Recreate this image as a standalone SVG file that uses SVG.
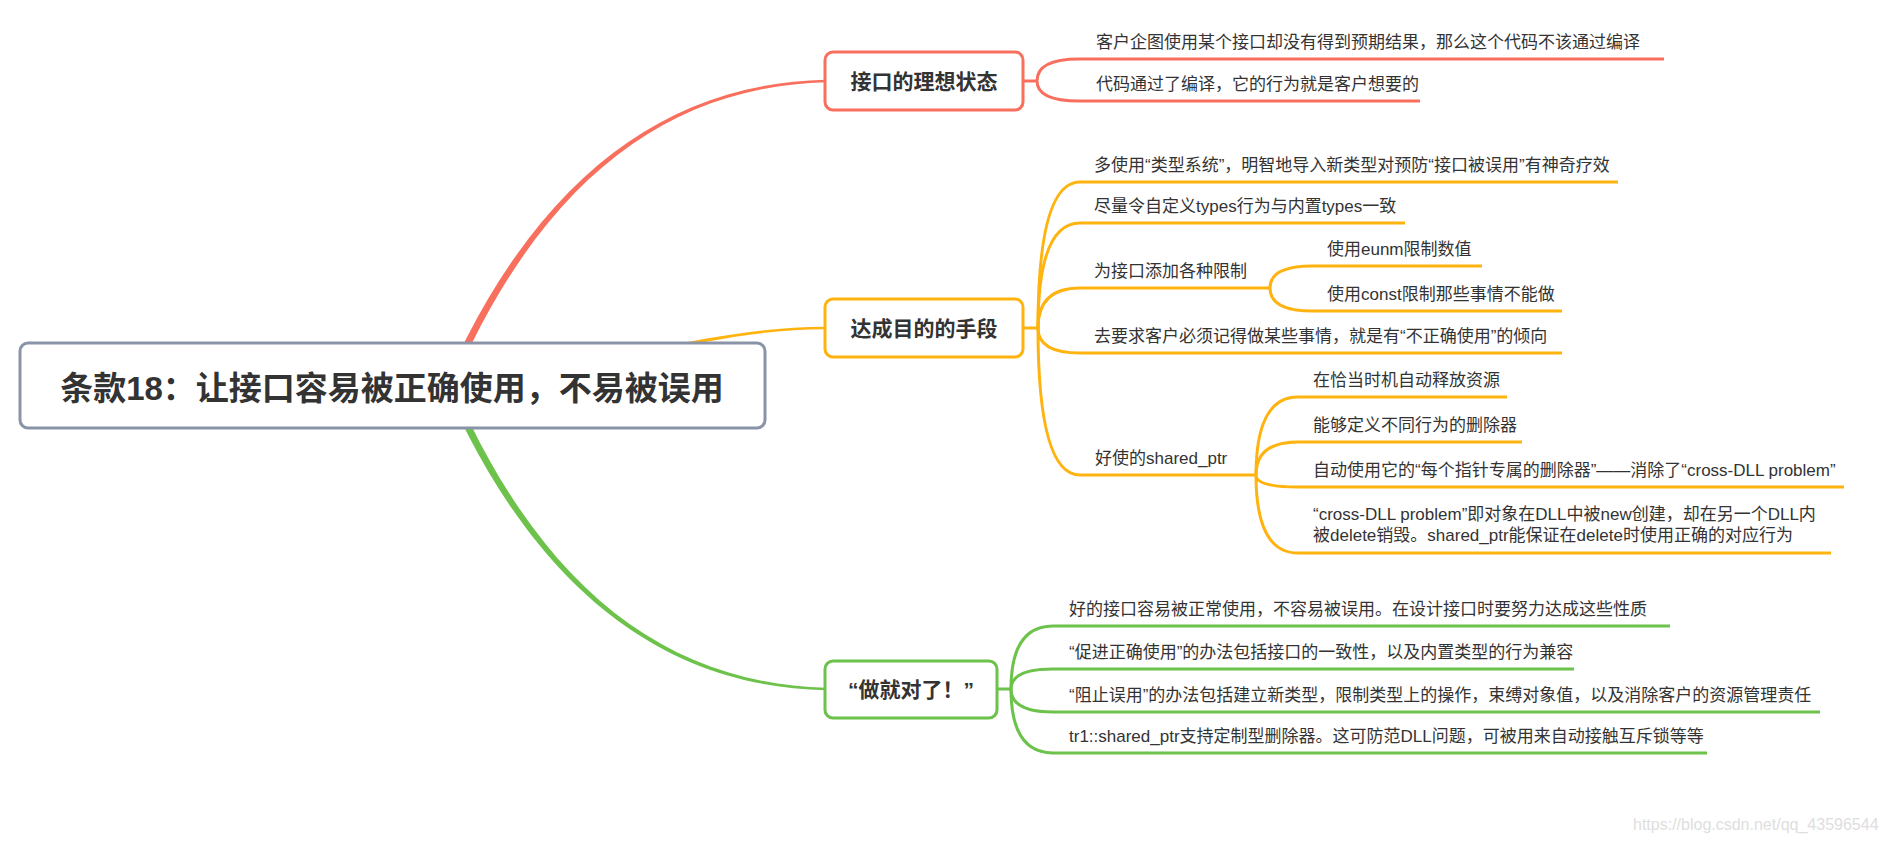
<svg xmlns="http://www.w3.org/2000/svg" width="1887" height="843" viewBox="0 0 1887 843">
<style>
.ln{fill:none;stroke-width:3}
.red{stroke:#F96F5D}
.yel{stroke:#FFB30F}
.grn{stroke:#6CC24A}
.box{fill:#fff;stroke-width:3}
.t{font-family:"Liberation Sans","Noto Sans CJK SC",sans-serif;font-size:17px;fill:#333}
.h{font-family:"Liberation Sans","Noto Sans CJK SC",sans-serif;font-size:21px;font-weight:bold;fill:#333;text-anchor:middle}
.root{font-family:"Liberation Sans","Noto Sans CJK SC",sans-serif;font-size:33px;font-weight:bold;fill:#333;text-anchor:middle}
</style>
<rect width="1887" height="843" fill="#fff"/>
<g id="connectors">
  <path fill="#F96F5D" d="M 437.7 421.5 C 522.5 201.6 650.7 86.7 826 82.2 L 826 79.8 C 649.3 83.3 517.5 198.4 430.3 418.5 Z"/>
  <path fill="#FFB30F" d="M 400 388 C 600 377 700 329.3 826 329.2 L 826 326.8 C 700 326.7 600 373 400 382 Z"/>
  <path fill="#6CC24A" d="M 437.7 348.5 C 522.5 568.4 650.7 683.3 826 687.8 L 826 690.2 C 649.3 686.7 517.5 571.6 430.3 351.5 Z"/>
  <g class="ln red">
    <path d="M 1023 81 H 1037"/>
    <path d="M 1037 81 Q 1037 59 1079 59 H 1664"/>
    <path d="M 1037 81 Q 1037 101 1079 101 H 1420"/>
  </g>
  <g class="ln yel">
    <path d="M 1023 328 H 1038"/>
    <path d="M 1038 328 Q 1038 182 1080 182 H 1618"/>
    <path d="M 1038 328 Q 1038 223 1080 223 H 1405"/>
    <path d="M 1038 328 Q 1038 288 1080 288 H 1270"/>
    <path d="M 1270 288 Q 1270 266 1312 266 H 1482"/>
    <path d="M 1270 288 Q 1270 311 1312 311 H 1562"/>
    <path d="M 1038 328 Q 1038 353 1080 353 H 1562"/>
    <path d="M 1038 328 Q 1038 475 1080 475 H 1256"/>
    <path d="M 1256 475 Q 1256 397 1298 397 H 1507"/>
    <path d="M 1256 475 Q 1256 442 1298 442 H 1522"/>
    <path d="M 1256 475 Q 1256 487 1298 487 H 1844"/>
    <path d="M 1256 475 Q 1256 553 1298 553 H 1831"/>
  </g>
  <g class="ln grn">
    <path d="M 997 689 H 1011"/>
    <path d="M 1011 689 Q 1011 626 1053 626 H 1670"/>
    <path d="M 1011 689 Q 1011 669 1053 669 H 1574"/>
    <path d="M 1011 689 Q 1011 712 1053 712 H 1820"/>
    <path d="M 1011 689 Q 1011 753 1053 753 H 1707"/>
  </g>
</g>
<g id="root">
  <rect class="box" x="20" y="343" width="745" height="85" rx="8" stroke="#8A94A8"/>
  <text class="root" x="392" y="400">条款18：让接口容易被正确使用，不易被误用</text>
</g>
<g id="topic-ideal">
  <rect class="box red" x="825" y="52" width="198" height="58" rx="8"/>
  <text class="h" x="924" y="89">接口的理想状态</text>
</g>
<g id="ideal-1"><text class="t" x="1096" y="48">客户企图使用某个接口却没有得到预期结果，那么这个代码不该通过编译</text></g>
<g id="ideal-2"><text class="t" x="1096" y="90">代码通过了编译，它的行为就是客户想要的</text></g>
<g id="topic-means">
  <rect class="box yel" x="825" y="299" width="198" height="58" rx="8"/>
  <text class="h" x="924" y="336">达成目的的手段</text>
</g>
<g id="means-a"><text class="t" x="1094" y="171">多使用“类型系统”，明智地导入新类型对预防“接口被误用”有神奇疗效</text></g>
<g id="means-b"><text class="t" x="1094" y="212">尽量令自定义types行为与内置types一致</text></g>
<g id="means-c"><text class="t" x="1094" y="277">为接口添加各种限制</text></g>
<g id="means-c1"><text class="t" x="1327" y="255">使用eunm限制数值</text></g>
<g id="means-c2"><text class="t" x="1327" y="300">使用const限制那些事情不能做</text></g>
<g id="means-d"><text class="t" x="1094" y="342">去要求客户必须记得做某些事情，就是有“不正确使用”的倾向</text></g>
<g id="means-e"><text class="t" x="1095" y="464">好使的shared_ptr</text></g>
<g id="means-e1"><text class="t" x="1313" y="386">在恰当时机自动释放资源</text></g>
<g id="means-e2"><text class="t" x="1313" y="431">能够定义不同行为的删除器</text></g>
<g id="means-e3"><text class="t" x="1313" y="476">自动使用它的“每个指针专属的删除器”——消除了“cross-DLL problem”</text></g>
<g id="means-e4">
  <text class="t" x="1313" y="520">“cross-DLL problem”即对象在DLL中被new创建，却在另一个DLL内</text>
  <text class="t" x="1313" y="541">被delete销毁。shared_ptr能保证在delete时使用正确的对应行为</text>
</g>
<g id="topic-doit">
  <rect class="box grn" x="825" y="661" width="172" height="57" rx="8"/>
  <text class="h" x="911" y="697">“做就对了！”</text>
</g>
<g id="doit-1"><text class="t" x="1069" y="615">好的接口容易被正常使用，不容易被误用。在设计接口时要努力达成这些性质</text></g>
<g id="doit-2"><text class="t" x="1069" y="658">“促进正确使用”的办法包括接口的一致性，以及内置类型的行为兼容</text></g>
<g id="doit-3"><text class="t" x="1069" y="701">“阻止误用”的办法包括建立新类型，限制类型上的操作，束缚对象值，以及消除客户的资源管理责任</text></g>
<g id="doit-4"><text class="t" x="1069" y="742">tr1::shared_ptr支持定制型删除器。这可防范DLL问题，可被用来自动接触互斥锁等等</text></g>
<text x="1633" y="830" font-family="Liberation Sans, Arial, sans-serif" font-size="16" fill="#DEDEDE">https://blog.csdn.net/qq_43596544</text>
</svg>
